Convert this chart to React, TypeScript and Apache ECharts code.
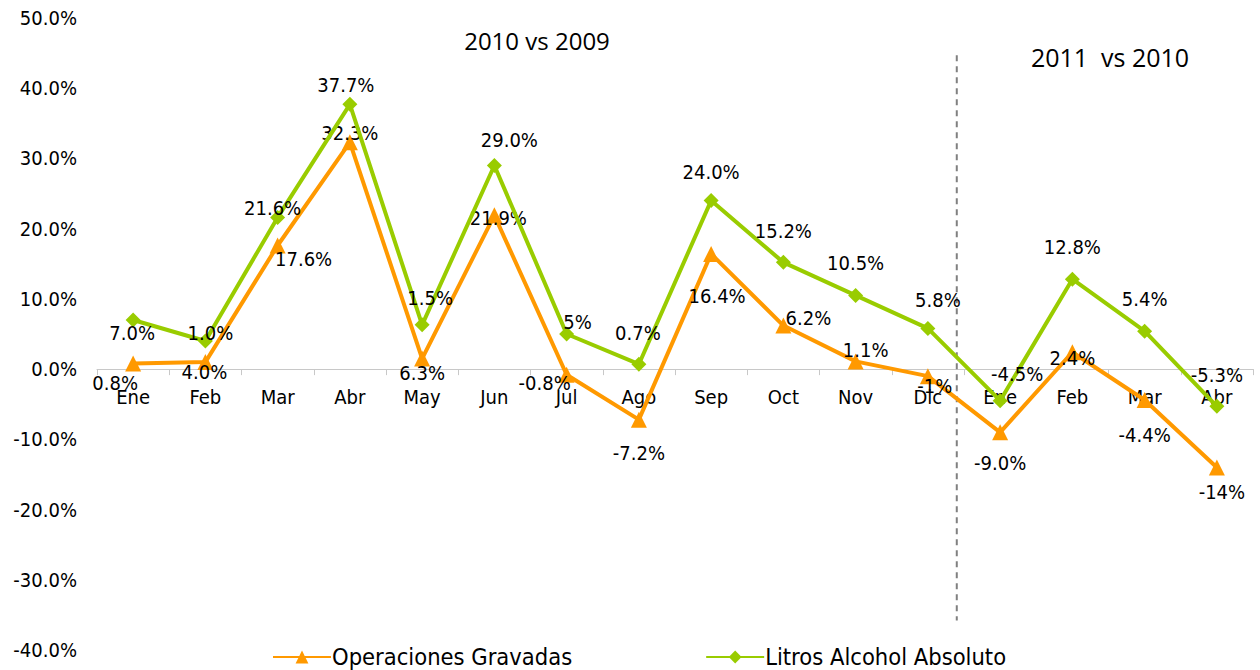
import React, { useEffect, useRef } from "react";
import * as echarts from "echarts";

const months = ["Ene", "Feb", "Mar", "Abr", "May", "Jun", "Jul", "Ago", "Sep", "Oct", "Nov", "Dic", "Ene", "Feb", "Mar", "Abr"];
const operaciones = [0.8, 1.0, 17.6, 32.3, 1.5, 21.9, -0.8, -7.2, 16.4, 6.2, 1.1, -1.0, -9.0, 2.4, -4.4, -14.0];
const litros = [7.0, 4.0, 21.6, 37.7, 6.3, 29.0, 5.0, 0.7, 24.0, 15.2, 10.5, 5.8, -4.5, 12.8, 5.4, -5.3];
const operacionesLabels = ["0.8%", "4.0%", "17.6%", "32.3%", "6.3%", "21.9%", "-0.8%", "-7.2%", "16.4%", "6.2%", "1.1%", "-1%", "-9.0%", "2.4%", "-4.4%", "-14%"];
const litrosLabels = ["7.0%", "1.0%", "21.6%", "37.7%", "1.5%", "29.0%", "5%", "0.7%", "24.0%", "15.2%", "10.5%", "5.8%", "-4.5%", "12.8%", "5.4%", "-5.3%"];
const seriesNames = ["Operaciones Gravadas", "Litros Alcohol Absoluto"];
const periodTitles = ["2010 vs 2009", "2011  vs 2010"];
const yMin = -40;
const yMax = 50;
const yStep = 10;

// label layout offsets (px) relative to each point
const orangeOffsets = [[-18, 20], [-1, 10], [26, 13], [0, -9], [0, 14], [4, 3], [-22, 8], [0, 33], [6, 42], [25, -8], [10, -11], [7, 10], [0, 31], [0, 6], [0, 35], [5, 25]];
const greenOffsets = [[-1, 13], [5, -8], [-5, -9], [-4, -19], [8, -27], [15, -25], [11, -12], [-1, -31], [0, -29], [0, -31], [0, -32], [10, -28], [17, -27], [0, -32], [0, -32], [0, -31]];

const FONT = "DejaVu Sans Condensed";
const ORANGE = "#FF9900";
const GREEN = "#99CC00";
const GRID = { left: 97, right: 7, top: 18, bottom: 20 };
const H = 670;

export default function App() {
  const ref = useRef<HTMLDivElement>(null);
  useEffect(() => {
    document.body.style.margin = "0";
    const chart = echarts.init(ref.current!, undefined, { renderer: "svg" });
    const mkData = (vals: number[], labels: string[], offs: number[][]) =>
      vals.map((v, i) => ({
        value: v,
        label: { offset: offs[i], formatter: labels[i] },
      }));
    const labelBase = {
      show: true,
      position: "inside",
      align: "center",
      verticalAlign: "middle",
      color: "#000",
      fontFamily: FONT,
      fontSize: 20,
    };
    const gridH = H - GRID.top - GRID.bottom;
    const zeroOffset = -gridH * (0 - yMin) / (yMax - yMin);
    chart.setOption({
      animation: false,
      backgroundColor: "#fff",
      grid: { ...GRID, containLabel: false, outerBoundsMode: "none" },
      xAxis: {
        type: "category",
        data: months,
        boundaryGap: true,
        offset: zeroOffset,
        axisLine: { onZero: false, lineStyle: { color: "#c8c8c8", width: 1 } },
        axisTick: { show: true, alignWithLabel: false, length: 6, lineStyle: { color: "#c8c8c8" } },
        axisLabel: { color: "#000", fontFamily: FONT, fontSize: 20, margin: 18 },
        splitLine: { show: false },
      },
      yAxis: {
        type: "value",
        min: yMin,
        max: yMax,
        interval: yStep,
        axisLine: { show: false },
        axisTick: { show: false },
        splitLine: { show: false },
        axisLabel: {
          color: "#000",
          fontFamily: FONT,
          fontSize: 20,
          margin: 20,
          formatter: (v: number) => v.toFixed(1) + "%",
        },
      },
      legend: {
        left: 272,
        top: 645,
        padding: 0,
        itemWidth: 58,
        itemHeight: 16,
        itemGap: 133,
        textStyle: { color: "#000", fontFamily: FONT, fontSize: 23.5, padding: [0, 0, 0, -4] },
        data: seriesNames,
      },
      graphic: [
        {
          id: "t1",
          type: "text",
          x: 537,
          y: 40,
          style: { text: periodTitles[0], fontFamily: "Open Sans", fontSize: 24, fill: "#000", align: "center", verticalAlign: "middle" },
        },
        {
          id: "t2",
          type: "text",
          x: 1110,
          y: 57,
          style: { text: periodTitles[1], fontFamily: "Open Sans", fontSize: 25, fill: "#000", align: "center", verticalAlign: "middle" },
        },
      ],
      series: [
        {
          name: seriesNames[0],
          type: "line",
          data: mkData(operaciones, operacionesLabels, orangeOffsets),
          color: ORANGE,
          lineStyle: { color: ORANGE, width: 4 },
          itemStyle: { color: ORANGE },
          symbol: "triangle",
          symbolSize: 16,
          label: labelBase,
          z: 2,
        },
        {
          name: seriesNames[1],
          type: "line",
          data: mkData(litros, litrosLabels, greenOffsets),
          color: GREEN,
          lineStyle: { color: GREEN, width: 4 },
          itemStyle: { color: GREEN },
          symbol: "diamond",
          symbolSize: 15,
          label: labelBase,
          z: 3,
        },
      ],
    });
    // dashed separator between 2010 and 2011 blocks, placed via the axis scales
    const pDic = chart.convertToPixel({ gridIndex: 0 }, [11, 0]) as number[];
    const pEne = chart.convertToPixel({ gridIndex: 0 }, [12, 0]) as number[];
    const sx = pDic[0] + (pEne[0] - pDic[0]) * 0.4;
    const yTop = (chart.convertToPixel({ gridIndex: 0 }, [0, 44.7]) as number[])[1];
    const yBot = (chart.convertToPixel({ gridIndex: 0 }, [0, -35.8]) as number[])[1];
    chart.setOption({
      graphic: [
        {
          id: "sep",
          type: "line",
          shape: { x1: sx, y1: yTop, x2: sx, y2: yBot },
          style: { stroke: "#808080", lineWidth: 2, lineDash: [6, 5] },
          silent: true,
          z: 1,
        },
      ],
    });
    return () => chart.dispose();
  }, []);
  return <div ref={ref} style={{ width: 1260, height: H }} />;
}
